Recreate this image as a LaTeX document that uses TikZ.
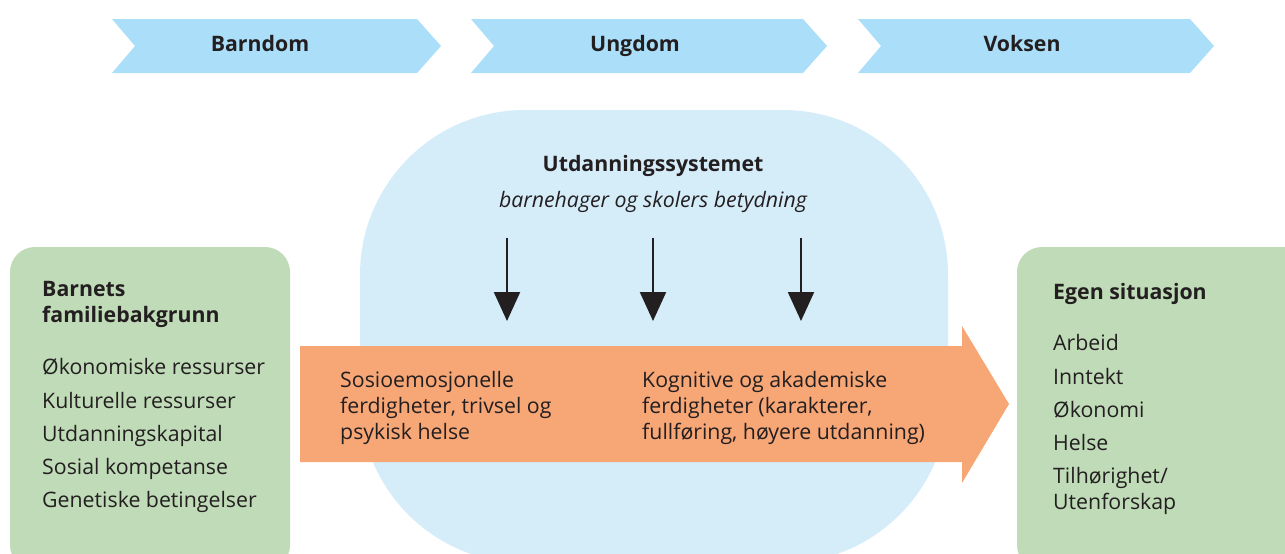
\documentclass[tikz,border=0pt]{standalone}
\usepackage{fontspec}
\setmainfont{Open Sans}
\usetikzlibrary{arrows.meta}
\definecolor{chev}{HTML}{ABDFF9}
\definecolor{bluebox}{HTML}{D5ECF9}
\definecolor{greenbox}{HTML}{C0DBB7}
\definecolor{orangearr}{HTML}{F7A676}
\definecolor{txt}{HTML}{231F20}
\tikzset{
  chevron/.style={fill=chev,draw=none},
  phase/.style={font=\fontsize{21.3}{25}\selectfont\bfseries,text=txt,inner sep=0pt},
  body/.style={font=\fontsize{21.3}{25.8}\selectfont,text=txt,inner sep=0pt,align=left},
  listtext/.style={font=\fontsize{21.3}{33.2}\selectfont,text=txt,inner sep=0pt,align=left},
  head/.style={font=\fontsize{21.3}{25.5}\selectfont\bfseries,text=txt,inner sep=0pt,align=left},
  influence/.style={line width=2.2pt,draw=txt,-{Triangle[width=26pt,length=29pt]}},
}
\begin{document}
\begin{tikzpicture}[x=1pt,y=-1pt]
\useasboundingbox (0,0) rectangle (1285,554);
\clip (0,0) rectangle (1285,554);
\fill[white] (0,0) rectangle (1285,554);
% phase chevrons
\fill[chevron] (112,19) -- (417,19) -- (441,46) -- (417,73) -- (112,73) -- (135,46) -- cycle;
\fill[chevron] (471,19) -- (803,19) -- (827,46) -- (803,73) -- (471,73) -- (494,46) -- cycle;
\fill[chevron] (858,19) -- (1190,19) -- (1214,46) -- (1190,73) -- (858,73) -- (881,46) -- cycle;
\node[phase,anchor=base] (barndom) at (260,51.5) {Barndom};
\node[phase,anchor=base] (ungdom) at (635,51.5) {Ungdom};
\node[phase,anchor=base] (voksen) at (1022,51.5) {Voksen};
% education system
\fill[bluebox,rounded corners=165pt] (360,110) rectangle (948,563);
\node[head,anchor=base] (utd) at (653,171) {Utdanningssystemet};
\node[body,anchor=base] (utdsub) at (653,207) {\itshape barnehager og skolers betydning};
% green boxes
\fill[greenbox,rounded corners=25pt] (10,247) rectangle (290,570);
\fill[greenbox,rounded corners=25pt] (1017,247) rectangle (1310,570);
% orange arrow
\fill[orangearr] (300,346) -- (962,346) -- (962,326) -- (1009,404) -- (962,483) -- (962,462) -- (300,462) -- cycle;
% influence arrows
\coordinate (s1) at (507,238); \coordinate (e1) at (507,321);
\coordinate (s2) at (653,238); \coordinate (e2) at (653,321);
\coordinate (s3) at (801,238); \coordinate (e3) at (801,321);
\draw[influence] (s1) -- (e1);
\draw[influence] (s2) -- (e2);
\draw[influence] (s3) -- (e3);
% left box text
\node[head,anchor=north west] (lhead) at (42,281.5) {Barnets\\familiebakgrunn};
\node[listtext,anchor=north west] (llist) at (42,358.5) {Økonomiske ressurser\\Kulturelle ressurser\\Utdanningskapital\\Sosial kompetanse\\Genetiske betingelser};
% orange text
\node[body,anchor=north west] (sosio) at (340,371.5) {Sosioemosjonelle\\ferdigheter, trivsel og\\psykisk helse};
\node[body,anchor=north west] (kogn) at (642,371.5) {Kognitive og akademiske\\ferdigheter (karakterer,\\fullføring, høyere utdanning)};
% right box text
\node[head,anchor=north west] (rhead) at (1053,283) {Egen situasjon};
\node[listtext,anchor=north west] (rlist) at (1053,334.5) {Arbeid\\Inntekt\\Økonomi\\Helse};
\node[body,anchor=north west] (rlist2) at (1053,467) {Tilhørighet/\\Utenforskap};
\end{tikzpicture}
\end{document}
